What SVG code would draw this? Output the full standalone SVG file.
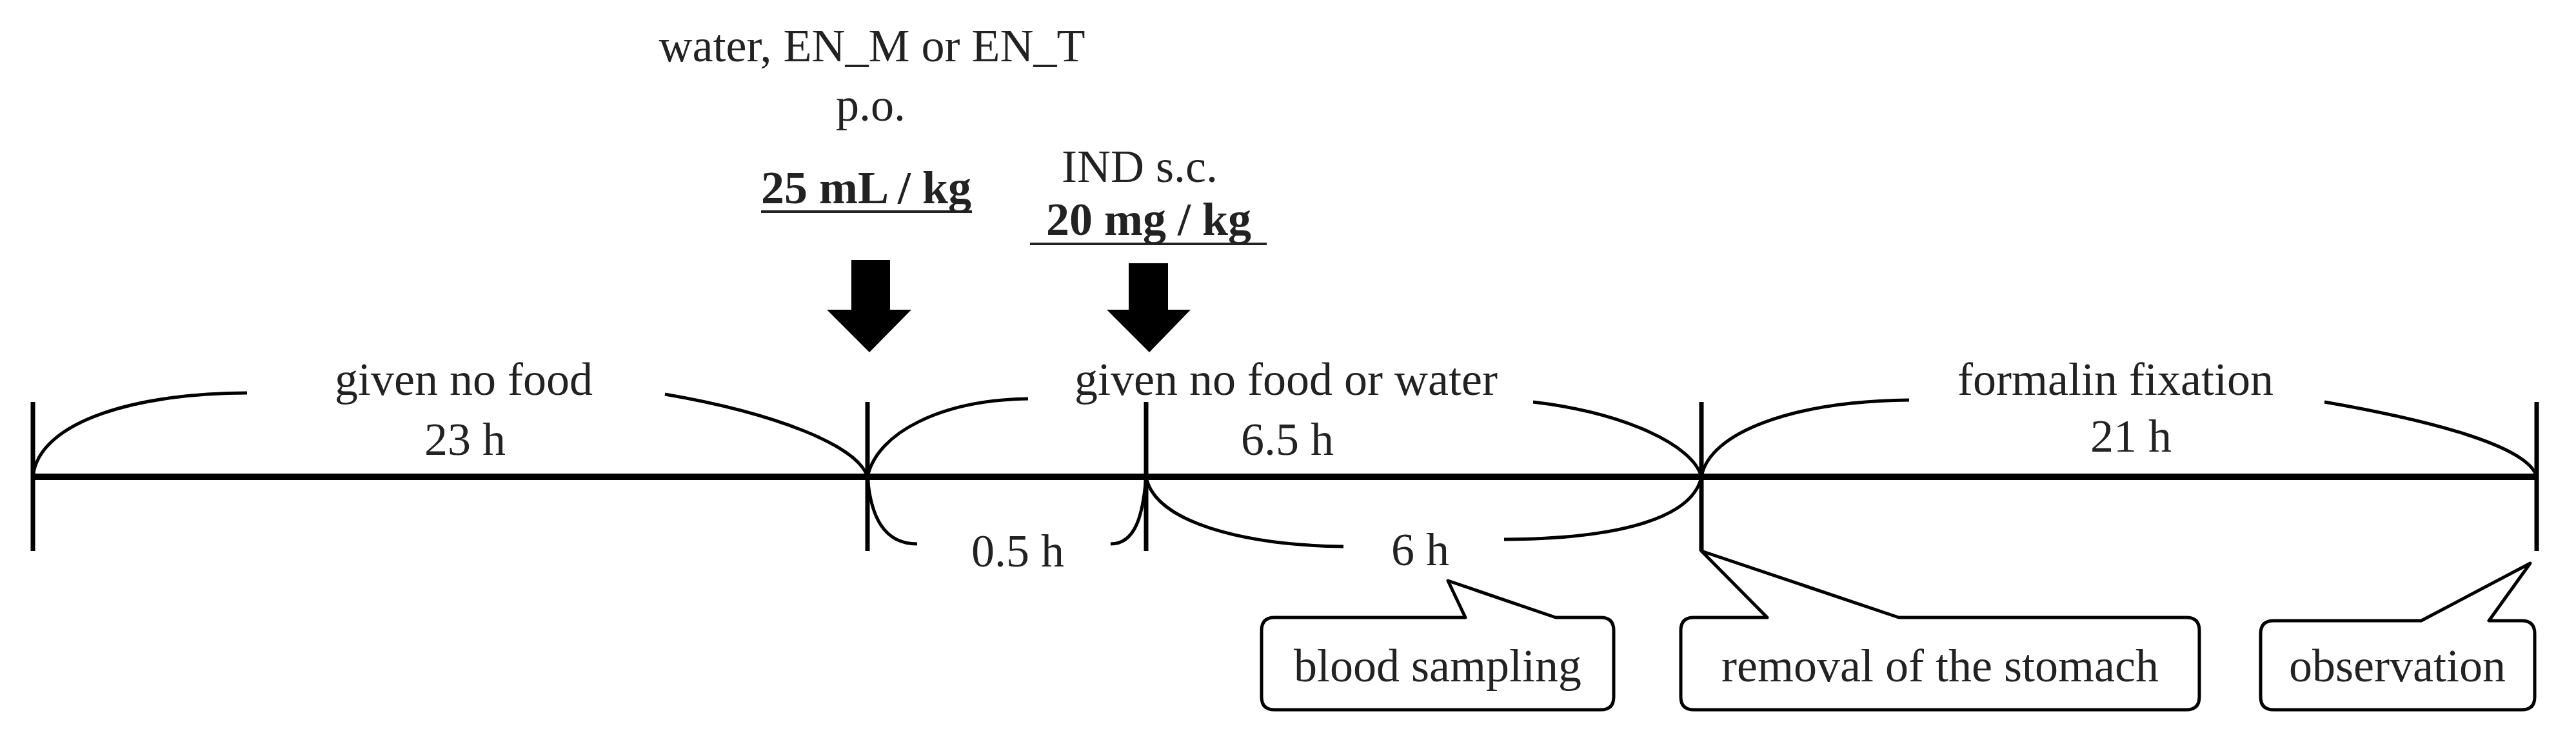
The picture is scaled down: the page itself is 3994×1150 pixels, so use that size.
<svg xmlns="http://www.w3.org/2000/svg" width="3994" height="1150" viewBox="0 0 3994 1150">
<style>
text{font-family:"Liberation Serif","Times New Roman",serif;fill:#222;text-anchor:middle;font-size:72px}
.b{font-weight:bold}
.ax{stroke:#000;stroke-width:10;fill:none}
.tk{stroke:#000;stroke-width:7;fill:none}
.br{stroke:#000;stroke-width:5;fill:none}
.bx{stroke:#000;stroke-width:5;fill:#fff;stroke-linejoin:round}
.ar{fill:#000}
.ul{stroke:#222;stroke-width:4}
</style>
<g id="connectors">
<line class="ax" x1="51" y1="739" x2="3933" y2="739"/>
<line class="tk" x1="51" y1="623" x2="51" y2="854"/>
<line class="tk" x1="1345" y1="623" x2="1345" y2="854"/>
<line class="tk" x1="1777" y1="623" x2="1777" y2="854"/>
<line class="tk" x1="2638" y1="623" x2="2638" y2="854"/>
<line class="tk" x1="3933" y1="623" x2="3933" y2="854"/>
<path class="br" d="M51,739 C60,650 220,609 383,609"/>
<path class="br" d="M1031,611 C1200,640 1330,690 1345,739"/>
<path class="br" d="M1345,739 C1360,670 1460,620 1594,618"/>
<path class="br" d="M2377,623 C2520,640 2625,690 2638,739"/>
<path class="br" d="M2638,739 C2650,670 2780,622 2960,620"/>
<path class="br" d="M3604,623 C3760,650 3920,690 3933,739"/>
<path class="br" d="M1345,739 C1350,800 1370,843 1422,843"/>
<path class="br" d="M1722,843 C1760,843 1772,800 1777,739"/>
<path class="br" d="M1777,739 C1790,810 1930,845 2083,847"/>
<path class="br" d="M2332,836 C2520,835 2625,800 2638,739"/>
<polygon class="ar" points="1320,403 1380,403 1380,480 1413,480 1348,546 1282,480 1320,480"/>
<polygon class="ar" points="1750,408 1811,408 1811,480 1846,480 1782,546 1716,480 1750,480"/>
</g>
<g id="dose1">
<text x="1352" y="95">water, EN_M or EN_T</text>
<text x="1350" y="187">p.o.</text>
<text class="b" x="1343" y="315" font-size="74">25 mL / kg</text>
<line class="ul" x1="1180" y1="328" x2="1507" y2="328"/>
</g>
<g id="dose2">
<text x="1767" y="282">IND s.c.</text>
<text class="b" x="1781" y="364" font-size="82">20 mg / kg</text>
<line class="ul" x1="1597" y1="378" x2="1964" y2="378"/>
</g>
<g id="period1">
<text x="719" y="612">given no food</text>
<text x="721" y="705">23 h</text>
</g>
<g id="period2">
<text x="1994" y="612">given no food or water</text>
<text x="1996" y="705">6.5 h</text>
<text x="1578" y="878">0.5 h</text>
<text x="2202" y="876">6 h</text>
</g>
<g id="period3">
<text x="3280" y="612">formalin fixation</text>
<text x="3304" y="700">21 h</text>
</g>
<g id="blood">
<path class="bx" d="M1976,957 H2272 L2245,900 L2412,957 H2482 Q2502,957 2502,977 V1080 Q2502,1100 2482,1100 H1976 Q1956,1100 1956,1080 V977 Q1956,957 1976,957 Z"/>
<text x="2229" y="1056">blood sampling</text>
</g>
<g id="removal">
<path class="bx" d="M2626,957 H2740 L2638,854 L2944,957 H3390 Q3410,957 3410,977 V1080 Q3410,1100 3390,1100 H2626 Q2606,1100 2606,1080 V977 Q2606,957 2626,957 Z"/>
<text x="3008" y="1056">removal of the stomach</text>
</g>
<g id="observation">
<path class="bx" d="M3525,962 H3754 L3923,873 L3859,962 H3910 Q3930,962 3930,982 V1080 Q3930,1100 3910,1100 H3525 Q3505,1100 3505,1080 V982 Q3505,962 3525,962 Z"/>
<text x="3717" y="1056">observation</text>
</g>
</svg>
